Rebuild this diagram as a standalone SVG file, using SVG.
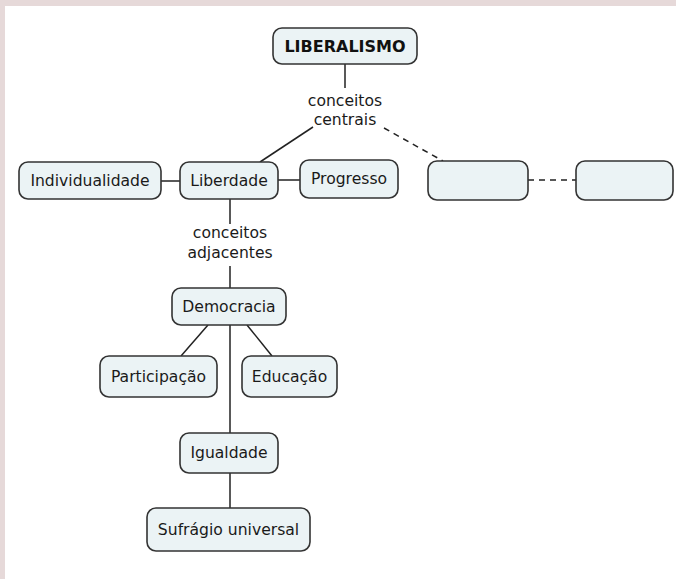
<svg xmlns="http://www.w3.org/2000/svg" width="676" height="579" viewBox="0 0 676 579">
<style>
.bg{fill:#e6d9d9}
.node rect{fill:#ebf3f5;stroke:#333;stroke-width:1.6}
text{font-family:"DejaVu Sans","Verdana",sans-serif;font-size:15.6px;fill:#1a1a1a;text-anchor:middle}
.bold{font-weight:bold;font-size:16px;fill:#111}
.conn line{stroke:#222;stroke-width:1.5;fill:none}
.conn .dash{stroke-dasharray:6 5}
</style>
<rect x="0" y="0" width="676" height="579" fill="#fff"/>
<rect class="bg" x="0" y="0" width="676" height="6"/>
<rect class="bg" x="0" y="0" width="5" height="579"/>
<g id="connectors" class="conn">
<line x1="345" y1="64" x2="345" y2="88"/>
<line x1="313" y1="127" x2="260" y2="162"/>
<line class="dash" x1="384" y1="128" x2="443" y2="161"/>
<line x1="161" y1="181" x2="180" y2="181"/>
<line x1="278" y1="180" x2="300" y2="180"/>
<line class="dash" x1="528" y1="180" x2="576" y2="180"/>
<line x1="230" y1="199" x2="230" y2="224"/>
<line x1="230" y1="266" x2="230" y2="288"/>
<line x1="208" y1="325" x2="181" y2="356"/>
<line x1="247" y1="325" x2="272" y2="356"/>
<line x1="230" y1="325" x2="230" y2="433"/>
<line x1="230" y1="473" x2="230" y2="508"/>
</g>
<g id="label-centrais">
<text x="345" y="106">conceitos</text>
<text x="345" y="125">centrais</text>
</g>
<g id="label-adjacentes">
<text x="230" y="238">conceitos</text>
<text x="230" y="258">adjacentes</text>
</g>
<g id="liberalismo" class="node">
<rect x="273" y="28" width="144" height="36" rx="9"/>
<text class="bold" x="345" y="52">LIBERALISMO</text>
</g>
<g id="individualidade" class="node">
<rect x="19" y="162" width="142" height="37" rx="9"/>
<text x="90" y="186">Individualidade</text>
</g>
<g id="liberdade" class="node">
<rect x="180" y="162" width="98" height="37" rx="9"/>
<text x="229" y="186">Liberdade</text>
</g>
<g id="progresso" class="node">
<rect x="300" y="160" width="98" height="38" rx="9"/>
<text x="349" y="184">Progresso</text>
</g>
<g id="empty1" class="node">
<rect x="428" y="161" width="100" height="39" rx="9"/>
</g>
<g id="empty2" class="node">
<rect x="576" y="161" width="97" height="39" rx="9"/>
</g>
<g id="democracia" class="node">
<rect x="172" y="288" width="114" height="37" rx="9"/>
<text x="229" y="312">Democracia</text>
</g>
<g id="participacao" class="node">
<rect x="100" y="356" width="117" height="41" rx="9"/>
<text x="158.5" y="382">Participação</text>
</g>
<g id="educacao" class="node">
<rect x="242" y="356" width="95" height="41" rx="9"/>
<text x="289.5" y="382">Educação</text>
</g>
<g id="igualdade" class="node">
<rect x="180" y="433" width="98" height="40" rx="9"/>
<text x="229" y="458">Igualdade</text>
</g>
<g id="sufragio" class="node">
<rect x="147" y="508" width="163" height="43" rx="9"/>
<text x="228.5" y="535">Sufrágio universal</text>
</g>
</svg>
